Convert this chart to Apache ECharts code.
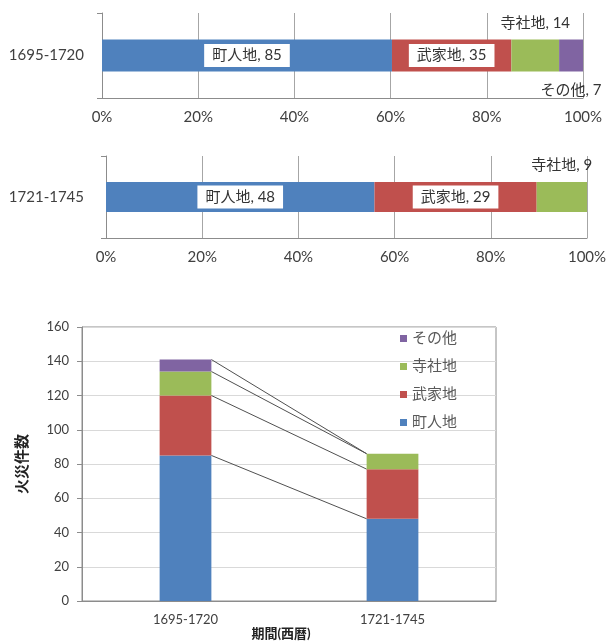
<!DOCTYPE html>
<html>
<head>
<meta charset="utf-8">
<script src="https://cdn.jsdelivr.net/npm/echarts@6/dist/echarts.min.js"></script>
<style>
  html, body { margin: 0; padding: 0; background: #fff; }
  #chart { width: 610px; height: 641px; }
</style>
</head>
<body>
<div id="chart"></div>
<script>
// Fire counts by land use, per period
const categories = ['1695-1720', '1721-1745'];
const seriesNames = ['町人地', '武家地', '寺社地', 'その他'];
const chonin = [85, 48];   // 町人地
const buke = [35, 29];     // 武家地
const jisha = [14, 9];     // 寺社地
const sonota = [7, 0];     // その他
const countTicks = { min: 0, max: 160, interval: 20 };
const shareTicks = { min: 0, max: 100, interval: 20 };

const values = [chonin, buke, jisha, sonota];
const colors = ['#4F81BD', '#C0504D', '#9BBB59', '#8064A2'];
const FONT = 'Lato, "Noto Sans CJK JP", sans-serif';
const totals = categories.map((_, i) => values.reduce((s, arr) => s + arr[i], 0));

// How each segment label of the 100% bars is placed (per period, per land use)
const labelModes = [
  ['box', 'box', 'top', 'bottom'],
  ['box', 'box', 'top', 'none']
];

function segLabel(mode, name, raw) {
  const base = {
    show: mode !== 'none',
    formatter: name + ', ' + raw,
    fontFamily: FONT,
    fontSize: 15,
    color: '#333'
  };
  if (mode === 'box') {
    return Object.assign(base, { position: 'inside', backgroundColor: '#fff', padding: [4, 8] });
  }
  if (mode === 'top') return Object.assign(base, { position: 'top', distance: 9 });
  if (mode === 'bottom') return Object.assign(base, { position: 'bottom', distance: 11 });
  return base;
}

const grids = [
  { left: 102, right: 27, top: 13, height: 85 },
  { left: 106, right: 23, top: 156, height: 82 },
  { left: 82, right: 114, top: 327, bottom: 40, show: true, borderColor: '#8c8c8c', borderWidth: 1 }
];

const xAxes = [];
const yAxes = [];
const series = [];

// Two 100% stacked horizontal bars, one per period
categories.forEach((cat, p) => {
  xAxes.push({
    type: 'value', gridIndex: p,
    min: shareTicks.min, max: shareTicks.max, interval: shareTicks.interval,
    axisLine: { show: true, lineStyle: { color: '#8c8c8c' } },
    axisTick: { show: false },
    splitLine: { show: true, lineStyle: { color: '#a6a6a6' } },
    axisLabel: { formatter: '{value}%', fontFamily: FONT, fontSize: 15, color: '#404040', margin: 12 }
  });
  yAxes.push({
    type: 'category', gridIndex: p, data: [cat],
    axisLine: { show: true, lineStyle: { color: '#8c8c8c' } },
    axisTick: { show: true, length: 5, lineStyle: { color: '#8c8c8c' } },
    axisLabel: { fontFamily: FONT, fontSize: 15, color: '#404040', margin: p === 0 ? 18 : 22 }
  });
  seriesNames.forEach((name, k) => {
    const raw = values[k][p];
    if (raw === 0) return;
    series.push({
      type: 'bar', name: name, stack: 'share' + p,
      xAxisIndex: p, yAxisIndex: p,
      barWidth: p === 0 ? 32 : 30,
      itemStyle: { color: colors[k] },
      label: segLabel(labelModes[p][k], name, raw),
      data: [raw / totals[p] * 100]
    });
  });
});

// Stacked column chart of counts
xAxes.push({
  type: 'category', gridIndex: 2, data: categories,
  name: '期間(西暦)', nameLocation: 'middle', nameGap: 20,
  nameTextStyle: { fontFamily: FONT, fontSize: 13, fontWeight: 'bold', color: '#222', padding: [0, 16, 0, 0] },
  axisLine: { show: true, lineStyle: { color: '#8c8c8c' } },
  axisTick: { show: false },
  axisLabel: { fontFamily: FONT, fontSize: 13, color: '#404040', margin: 12 }
});
yAxes.push({
  type: 'value', gridIndex: 2,
  min: countTicks.min, max: countTicks.max, interval: countTicks.interval,
  name: '火災件数', nameLocation: 'middle', nameGap: 52, nameRotate: 90,
  nameTextStyle: { fontFamily: FONT, fontSize: 15, fontWeight: 'bold', color: '#222' },
  axisLine: { show: true, lineStyle: { color: '#8c8c8c' } },
  axisTick: { show: true, length: 5, lineStyle: { color: '#8c8c8c' } },
  splitLine: { show: true, lineStyle: { color: '#d9d9d9' } },
  axisLabel: { fontFamily: FONT, fontSize: 13, color: '#404040', margin: 13 }
});

seriesNames.forEach((name, k) => {
  series.push({
    type: 'bar', name: name, stack: 'count',
    xAxisIndex: 2, yAxisIndex: 2,
    barWidth: '25%',
    itemStyle: { color: colors[k] },
    data: values[k]
  });
});

// Series lines joining the top of each stacked segment between the two columns
const cumulative = seriesNames.map((_, k) =>
  categories.map((__, i) => values.slice(0, k + 1).reduce((s, arr) => s + arr[i], 0))
);
series.push({
  type: 'custom', name: 'series-lines',
  xAxisIndex: 2, yAxisIndex: 2,
  silent: true,
  encode: { x: 0, y: [1, 2] },
  data: cumulative.map(c => [0, c[0], c[1]]),
  renderItem: function (params, api) {
    const a = api.coord([0, api.value(1)]);
    const b = api.coord([1, api.value(2)]);
    const half = api.size([1, 0])[0] * 0.125;
    return {
      type: 'line',
      shape: { x1: a[0] + half, y1: a[1], x2: b[0] - half, y2: b[1] },
      style: { stroke: '#505050', lineWidth: 1 }
    };
  }
});

const chart = echarts.init(document.getElementById('chart'), null, { renderer: 'canvas' });
chart.setOption({
  animation: false,
  backgroundColor: '#fff',
  textStyle: { fontFamily: FONT },
  grid: grids,
  xAxis: xAxes,
  yAxis: yAxes,
  legend: {
    data: ['その他', '寺社地', '武家地', '町人地'],
    orient: 'vertical', left: 395, top: 326,
    icon: 'rect', itemWidth: 7, itemHeight: 7, itemGap: 13,
    textStyle: { fontFamily: FONT, fontSize: 15, color: '#595959' }
  },
  series: series
});
</script>
</body>
</html>
